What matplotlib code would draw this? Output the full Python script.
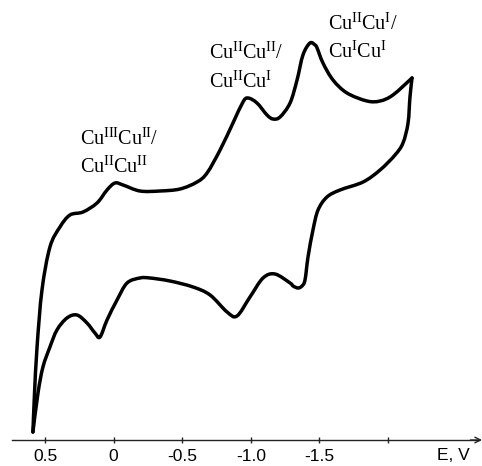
import numpy as np
import matplotlib
matplotlib.use("Agg")
import matplotlib.pyplot as plt
from matplotlib.path import Path
from matplotlib.patches import PathPatch

plt.rcParams['mathtext.fontset'] = 'custom'
plt.rcParams['mathtext.rm'] = 'Liberation Serif'
plt.rcParams['mathtext.it'] = 'Liberation Serif:italic'

# Forward sweep (upper branch): potential E (V) and current (arb. units)
E_fwd = [0.588, 0.577, 0.558, 0.522, 0.464, 0.391, 0.318, 0.223, 0.121, 0.048,
         -0.010, -0.069, -0.192, -0.338, -0.484, -0.608, -0.681, -0.776, -0.870,
         -0.943, -0.980, -1.045, -1.118, -1.162, -1.213, -1.286, -1.337, -1.380,
         -1.431, -1.468, -1.483, -1.526, -1.599, -1.701, -1.847, -1.942, -2.036, -2.175]
I_fwd = [0.8, 4.5, 9.3, 15.0, 19.3, 21.3, 22.5, 22.8, 23.7, 25.0,
         25.7, 25.5, 24.9, 24.9, 25.1, 25.8, 26.7, 29.0, 31.7,
         33.8, 34.2, 33.7, 32.5, 32.1, 32.3, 33.7, 36.0, 38.5,
         39.7, 39.5, 39.2, 37.7, 36.0, 34.7, 33.9, 33.9, 34.5, 36.2]

# Reverse sweep (lower branch)
E_rev = [-2.175, -2.160, -2.146, -2.109, -2.051, -1.942, -1.818, -1.650, -1.555,
         -1.490, -1.453, -1.417, -1.395, -1.373, -1.344, -1.308, -1.286, -1.176,
         -1.089, -0.994, -0.899, -0.827, -0.703, -0.579, -0.411, -0.265, -0.192,
         -0.098, -0.025, 0.048, 0.099, 0.136, 0.194, 0.267, 0.340, 0.413, 0.464,
         0.515, 0.551, 0.588]
I_rev = [36.2, 34.3, 31.7, 29.7, 28.5, 27.0, 25.8, 25.0, 24.3,
         23.0, 21.0, 18.3, 16.0, 15.4, 15.2, 15.4, 15.7, 16.6,
         16.2, 14.3, 12.4, 12.8, 14.5, 15.3, 15.9, 16.2, 16.2,
         15.7, 14.0, 12.0, 10.3, 10.7, 11.7, 12.5, 12.2, 11.0, 9.3,
         7.3, 4.7, 0.8]

tick_vals = [0.5, 0.0, -0.5, -1.0, -1.5, -2.0]
tick_labels = ['0.5', '0', '-0.5', '-1.0', '-1.5', '']


def smooth_path(xs, ys):
    pts = np.column_stack([xs, ys]).astype(float)
    n = len(pts)
    verts = [pts[0]]
    codes = [Path.MOVETO]
    for i in range(n - 1):
        p0 = pts[i - 1] if i > 0 else pts[i]
        p1 = pts[i]
        p2 = pts[i + 1]
        p3 = pts[i + 2] if i + 2 < n else pts[i + 1]
        c1 = p1 + (p2 - p0) / 6.0
        c2 = p2 - (p3 - p1) / 6.0
        verts += [c1, c2, p2]
        codes += [Path.CURVE4] * 3
    return Path(verts, codes)


fig = plt.figure(figsize=(4.82, 4.66), dpi=100)
ax = fig.add_axes([0, 0, 1, 1])
ax.set_xlim(0.828, -2.685)
ax.set_ylim(-2.6, 44.0)

for xs, ys in [(E_fwd, I_fwd), (E_rev, I_rev)]:
    ax.add_patch(PathPatch(smooth_path(xs, ys), fill=False, lw=2.5,
                           edgecolor='black', capstyle='round', joinstyle='round'))

for s in ['top', 'right', 'left']:
    ax.spines[s].set_visible(False)
ax.spines['bottom'].set_position(('data', 0))
ax.spines['bottom'].set_bounds(0.741, -2.66)
ax.spines['bottom'].set_linewidth(1.0)
ax.spines['bottom'].set_color('#222222')
ax.set_yticks([])
ax.set_xticks(tick_vals)
ax.set_xticklabels(tick_labels, fontfamily='Liberation Sans', fontsize=12.5)
ax.tick_params(axis='x', direction='inout', length=5, width=1.0, pad=4, color='#222222')

ax.annotate('', xy=(-2.685, 0), xytext=(-2.60, 0),
            arrowprops=dict(arrowstyle='->', lw=1.0, color='#222222',
                            shrinkA=0, shrinkB=0, mutation_scale=10))
ax.text(-2.474, -0.8, 'E, V', ha='center', va='top', fontfamily='Liberation Sans',
        fontsize=12.5)

fs = 14.5
tkw = dict(ha='left', va='baseline', fontfamily='Liberation Serif', fontsize=fs)
ax.text(0.245, 29.5, r'Cu$^{\mathrm{III}}$Cu$^{\mathrm{II}}$/', **tkw)
ax.text(0.245, 26.7, r'Cu$^{\mathrm{II}}$Cu$^{\mathrm{II}}$', **tkw)
ax.text(-0.695, 38.1, r'Cu$^{\mathrm{II}}$Cu$^{\mathrm{II}}$/', **tkw)
ax.text(-0.695, 35.2, r'Cu$^{\mathrm{II}}$Cu$^{\mathrm{I}}$', **tkw)
ax.text(-1.563, 41.0, r'Cu$^{\mathrm{II}}$Cu$^{\mathrm{I}}$/', **tkw)
ax.text(-1.563, 38.2, r'Cu$^{\mathrm{I}}$Cu$^{\mathrm{I}}$', **tkw)

fig.savefig('out.png', dpi=100)
